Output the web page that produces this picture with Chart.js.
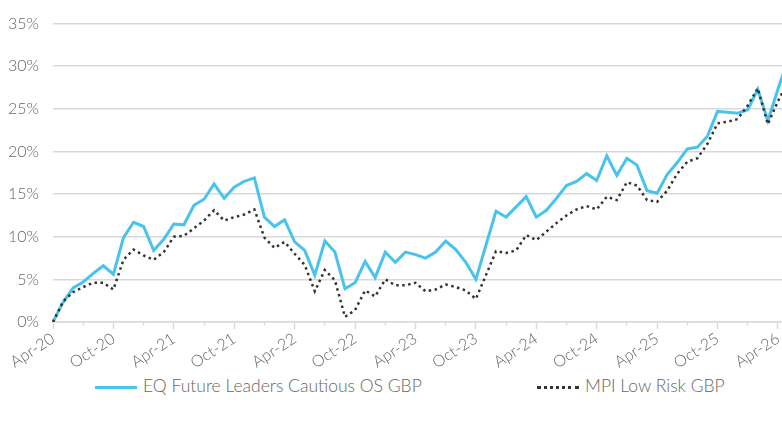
<!DOCTYPE html>
<html>
<head>
<meta charset="utf-8">
<script src="https://cdn.jsdelivr.net/npm/chart.js@4.4.1/dist/chart.umd.min.js"></script>
<style>
  html, body { margin: 0; padding: 0; background: #fff; }
  #wrap { position: relative; width: 782px; height: 421px; overflow: hidden; }
  #box { position: absolute; left: 0; top: 0; width: 788px; height: 372px; }
  #legend { position: absolute; left: 0; top: 376px; width: 782px; height: 20px;
    font: 300 17.5px Lato, "Open Sans", sans-serif; color: #666; }
  .item { position: absolute; top: 0; height: 20px; line-height: 20px; white-space: nowrap; }
  .item i { display: inline-block; vertical-align: middle; width: 42px; margin-right: 6px; }
</style>
</head>
<body>
<div id="wrap">
  <div id="box"><canvas id="chart"></canvas></div>
  <div id="legend"></div>
</div>
<script>
// months, Apr-20 .. May-26 (last one is cut off at the right edge)
const months = [
  "Apr-20", "May-20", "Jun-20", "Jul-20", "Aug-20", "Sep-20", "Oct-20", "Nov-20", "Dec-20",
  "Jan-21", "Feb-21", "Mar-21", "Apr-21", "May-21", "Jun-21", "Jul-21", "Aug-21", "Sep-21", "Oct-21", "Nov-21", "Dec-21",
  "Jan-22", "Feb-22", "Mar-22", "Apr-22", "May-22", "Jun-22", "Jul-22", "Aug-22", "Sep-22", "Oct-22", "Nov-22", "Dec-22",
  "Jan-23", "Feb-23", "Mar-23", "Apr-23", "May-23", "Jun-23", "Jul-23", "Aug-23", "Sep-23", "Oct-23", "Nov-23", "Dec-23",
  "Jan-24", "Feb-24", "Mar-24", "Apr-24", "May-24", "Jun-24", "Jul-24", "Aug-24", "Sep-24", "Oct-24", "Nov-24", "Dec-24",
  "Jan-25", "Feb-25", "Mar-25", "Apr-25", "May-25", "Jun-25", "Jul-25", "Aug-25", "Sep-25", "Oct-25", "Nov-25", "Dec-25",
  "Jan-26", "Feb-26", "Mar-26", "Apr-26", "May-26",
];
const fundName = "EQ Future Leaders Cautious OS GBP";
const fund = [
  0, 2.3, 4.0, 4.7, 5.7, 6.6, 5.6, 9.9, 11.7,
  11.2, 8.4, 9.7, 11.5, 11.4, 13.7, 14.4, 16.2, 14.5, 15.8, 16.5, 16.9,
  12.3, 11.2, 12.0, 9.4, 8.4, 5.5, 9.5, 8.2, 3.9, 4.6, 7.1, 5.2,
  8.2, 7.0, 8.2, 7.9, 7.5, 8.2, 9.5, 8.5, 7.0, 5.0, 9.0, 13.0,
  12.3, 13.5, 14.7, 12.3, 13.1, 14.5, 16.0, 16.5, 17.4, 16.6, 19.5, 17.2,
  19.2, 18.4, 15.4, 15.1, 17.3, 18.7, 20.3, 20.5, 21.8, 24.7, 24.6, 24.5,
  24.9, 27.3, 23.6, 27.3, 30.8,
];
const benchName = "MPI Low Risk GBP";
const bench = [
  0, 2.4, 3.5, 4.1, 4.6, 4.6, 3.8, 7.3, 8.5,
  7.8, 7.3, 8.2, 10.0, 10.1, 11.0, 11.9, 13.1, 11.9, 12.3, 12.6, 13.2,
  9.9, 8.7, 9.4, 8.0, 6.7, 3.6, 6.1, 4.9, 0.6, 1.4, 3.7, 3.0,
  5.0, 4.3, 4.3, 4.6, 3.6, 3.8, 4.4, 4.1, 3.7, 2.7, 5.5, 8.3,
  8.1, 8.4, 10.2, 9.6, 10.6, 11.6, 12.5, 13.2, 13.6, 13.2, 14.7, 14.3,
  16.4, 16.0, 14.3, 14.1, 15.4, 17.4, 18.8, 19.2, 20.9, 23.3, 23.5, 23.8,
  25.4, 27.4, 23.2, 25.9, 28.2,
];
const yTicks = [0, 5, 10, 15, 20, 25, 30, 35];

const blue = "#4ac3ec";
const dark = "#333333";
const grey = "#666666";
const gridGrey = "#d9d9d9";
const font = { family: "Lato, 'Open Sans', sans-serif", size: 16, weight: 300 };

new Chart(document.getElementById("chart"), {
  type: "line",
  data: {
    labels: months,
    datasets: [
      {
        label: fundName,
        data: fund,
        borderColor: blue,
        borderWidth: 3,
        pointRadius: 0,
        tension: 0,
        order: 1,
      },
      {
        label: benchName,
        data: bench,
        borderColor: dark,
        borderWidth: 2.5,
        borderDash: [2.5, 3.5],
        pointRadius: 0,
        tension: 0,
        order: 0,
      },
    ],
  },
  options: {
    responsive: true,
    maintainAspectRatio: false,
    animation: false,
    layout: { padding: { top: 14, left: 0, right: 0, bottom: 0 } },
    scales: {
      x: {
        offset: false,
        // fixed axis size, the plot runs on past the right edge of the page
        afterFit: (scale) => {
          scale.height = 50;
          scale.paddingRight = 0;
        },
        border: { color: gridGrey, width: 1.5 },
        grid: {
          drawOnChartArea: false,
          tickLength: 7,
          tickWidth: 1.5,
          // quarter ticks, the half-year ones longer
          tickColor: (ctx) => (ctx.index % 3 === 0 ? gridGrey : "rgba(0,0,0,0)"),
          tickBorderDash: (ctx) => (ctx.index % 6 === 0 ? [] : [3, 20]),
        },
        ticks: {
          autoSkip: false,
          maxRotation: 33,
          minRotation: 33,
          padding: 0,
          color: grey,
          font: font,
          callback: function (v, i) {
            return i % 6 === 0 ? this.getLabelForValue(v) : "";
          },
        },
      },
      y: {
        min: 0,
        max: 35,
        afterBuildTicks: (scale) => {
          scale.ticks = yTicks.map((v) => ({ value: v }));
        },
        afterFit: (scale) => {
          scale.width = 53;
        },
        border: { display: false },
        grid: { color: gridGrey, lineWidth: 1.5, drawTicks: false },
        ticks: {
          padding: 14,
          color: grey,
          font: font,
          callback: (v) => v + "%",
        },
      },
    },
    plugins: {
      legend: { display: false },
      tooltip: { enabled: false },
    },
  },
});

// legend
const legend = document.getElementById("legend");
legend.innerHTML =
  '<div class="item" style="left:95px"><i style="border-top:3px solid ' + blue + '"></i>' + fundName + "</div>" +
  '<div class="item" style="left:537px"><i style="border-top:3px dotted ' + dark + '"></i>' + benchName + "</div>";
</script>
</body>
</html>
